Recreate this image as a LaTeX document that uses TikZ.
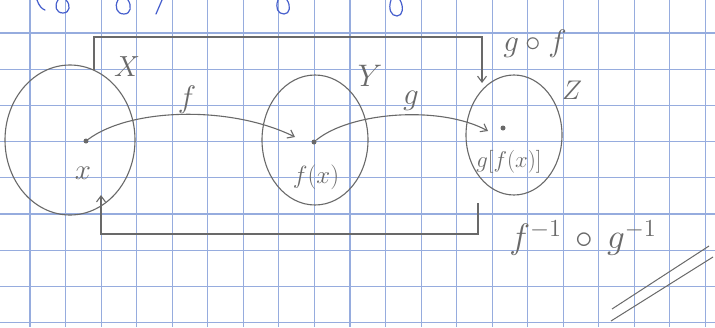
\documentclass[tikz,border=0pt]{standalone}
\usepackage{graphicx}
\usetikzlibrary{shapes.geometric,arrows.meta}
\definecolor{pencil}{RGB}{105,105,105}
\definecolor{gridblue}{RGB}{150,172,222}
\definecolor{ink}{RGB}{70,95,205}
\newcommand{\hlab}[2]{\scalebox{#1}{$#2$}}
\begin{document}
\begin{tikzpicture}[x=1pt,y=-1pt,
  setbox/.style={ellipse,draw=pencil,line width=1.1pt,inner sep=0pt},
  pdot/.style={circle,fill=pencil,inner sep=0pt,minimum size=5pt},
  conn/.style={draw=pencil,line width=1.1pt,-{Straight Barb[length=6pt,width=9pt]}},
  lbl/.style={text=pencil,inner sep=0pt,font=\fontsize{20}{24}\selectfont},
  gridline/.style={draw=gridblue,line width=1.1pt}]
\useasboundingbox[fill=white] (0,0) rectangle (715,327);
% grid paper
\foreach \k in {0,...,19} \draw[gridline] ({30+35.55*\k},0) -- ({30+35.55*\k},327);
\foreach \k in {0,...,8} \draw[gridline] (0,{33+36.2*\k}) -- (715,{33+36.2*\k});
% cut-off blue writing at the top edge
\begin{scope}[draw=ink,line width=1.2pt,line cap=round]
\draw (37,0) .. controls (39,6) and (42,9) .. (45,10);
\draw (58,0) .. controls (54,6) and (56,13) .. (63,13) .. controls (70,13) and (71,5) .. (66,0);
\draw (118,0) .. controls (114,7) and (117,14) .. (124,14) .. controls (131,14) and (132,6) .. (128,0);
\draw (162,0) -- (156,14);
\draw (278,0) .. controls (275,8) and (278,14) .. (284,14) .. controls (290,14) and (291,6) .. (287,0);
\draw (391,0) .. controls (388,9) and (391,16) .. (397,16) .. controls (403,16) and (404,7) .. (400,0);
\end{scope}
% sets
\node[setbox,minimum width=130pt,minimum height=150pt] (X) at (70,140) {};
\node[setbox,minimum width=106pt,minimum height=130pt] (Y) at (315,140) {};
\node[setbox,minimum width=96pt,minimum height=120pt] (Z) at (514,135) {};
% points
\node[pdot] (px) at (86,141) {};
\node[pdot] (py) at (314,142) {};
\node[pdot] (pz) at (503,128) {};
\coordinate (fend) at (295,137);
\coordinate (gend) at (488,131);
% labels
\node[lbl] (lX) at (127,67) {\hlab{1.4}{X}};
\node[lbl] (lY) at (370,76) {\hlab{1.5}{Y}};
\node[lbl] (lZ) at (572,90) {\hlab{1.3}{Z}};
\node[lbl] (lx) at (83,173) {\hlab{1.4}{x}};
\node[lbl] (lfx) at (316,177) {\hlab{1.2}{f(x)}};
\node[lbl] (lgfx) at (509,162) {\hlab{1.1}{g[f(x)]}};
\node[lbl] (lf) at (187,100) {\hlab{1.5}{f}};
\node[lbl] (lg) at (411,101) {\hlab{1.5}{g}};
\node[lbl] (lgof) at (535,44) {\hlab{1.5}{g\circ f}};
\node[lbl] (linv) at (583,238) {\hlab{1.7}{f^{-1}\,\circ\, g^{-1}}};
% maps
\draw[conn] (px) .. controls (130,108) and (230,105) .. (fend);
\draw[conn] (py) .. controls (350,112) and (440,105) .. (gend);
% composite g o f (top)
\coordinate (tstart) at (94,70);
\coordinate (tend) at (482,83);
\draw[conn] (tstart) -- ++(0,-33) -| (tend);
% inverse composite (bottom)
\coordinate (bstart) at (478,203);
\coordinate (bend) at (101,195);
\draw[conn] (bstart) -- ++(0,31) -| (bend);
% double stroke at bottom right
\draw[pencil,line width=1pt] (612,309) -- (709,246);
\draw[pencil,line width=1pt] (611,321) -- (713,257);
\end{tikzpicture}
\end{document}
